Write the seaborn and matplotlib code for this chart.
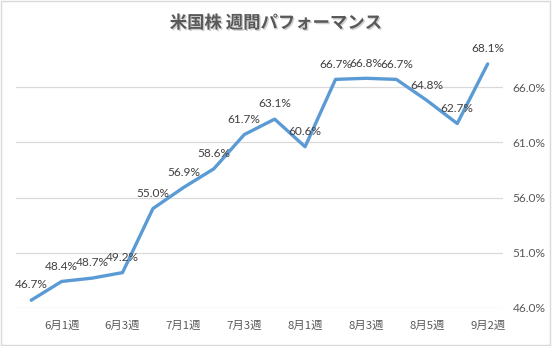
import matplotlib
matplotlib.use("Agg")
import matplotlib.pyplot as plt
import matplotlib.patheffects as pe
import seaborn as sns
import pandas as pd

weeks = ["5月5週", "6月1週", "6月2週", "6月3週", "6月4週", "7月1週", "7月2週", "7月3週",
         "7月4週", "8月1週", "8月2週", "8月3週", "8月4週", "8月5週", "9月1週", "9月2週"]
performance = [46.7, 48.4, 48.7, 49.2, 55.0, 56.9, 58.6, 61.7,
               63.1, 60.6, 66.7, 66.8, 66.7, 64.8, 62.7, 68.1]
y_ticks = [46.0, 51.0, 56.0, 61.0, 66.0]
title = "米国株 週間パフォーマンス"

sns.set_theme(style="white")
plt.rcParams['font.family'] = ['Noto Sans CJK JP', 'DejaVu Sans']
num_font = ['Lato', 'DejaVu Sans']

df = pd.DataFrame({"idx": range(len(weeks)), "week": weeks, "value": performance})

fig = plt.figure(figsize=(5.52, 3.46), dpi=100)
ax = fig.add_axes([0.029, 0.110, 0.882, 0.785])

sns.lineplot(data=df, x="idx", y="value", ax=ax, color="#5B9BD5", linewidth=2.4,
             solid_capstyle="round", zorder=3)

for i, v in zip(df["idx"], df["value"]):
    ax.annotate(f"{v:.1f}%", (i, v), xytext=(0, 7), textcoords="offset points",
                ha="center", va="bottom", fontsize=8.6, color="#404040",
                family=num_font)

ax.set_xlim(-0.5, len(weeks) - 0.5)
ax.set_ylim(46.0, 70.6)
ax.set_yticks(y_ticks)
ax.set_yticklabels([f"{t:.1f}%" for t in y_ticks], fontsize=8.6, color="#595959",
                   family=num_font)
ax.yaxis.tick_right()
ax.tick_params(axis="y", length=0, pad=7)
odd = list(range(1, len(weeks), 2))
ax.set_xticks(odd)
ax.set_xticklabels([weeks[i] for i in odd], fontsize=8.2, color="#595959")
ax.tick_params(axis="x", length=0, pad=9)
ax.grid(axis="y", color="#D9D9D9", linewidth=0.9)
ax.set_axisbelow(True)
for s in ax.spines.values():
    s.set_visible(False)
ax.set_xlabel("")
ax.set_ylabel("")

t = fig.text(0.5, 0.933, title, ha="center", va="center", fontsize=12.5,
             fontweight="bold", color="#595959")
t.set_path_effects([pe.SimplePatchShadow(offset=(1, -1), shadow_rgbFace="#B0B0B0", alpha=0.6),
                    pe.Normal()])

border = plt.Rectangle((0.002, 0.003), 0.995, 0.994, transform=fig.transFigure,
                       fill=False, edgecolor="#D9D9D9", linewidth=1)
fig.patches.append(border)

fig.savefig("out.png", dpi=100)
